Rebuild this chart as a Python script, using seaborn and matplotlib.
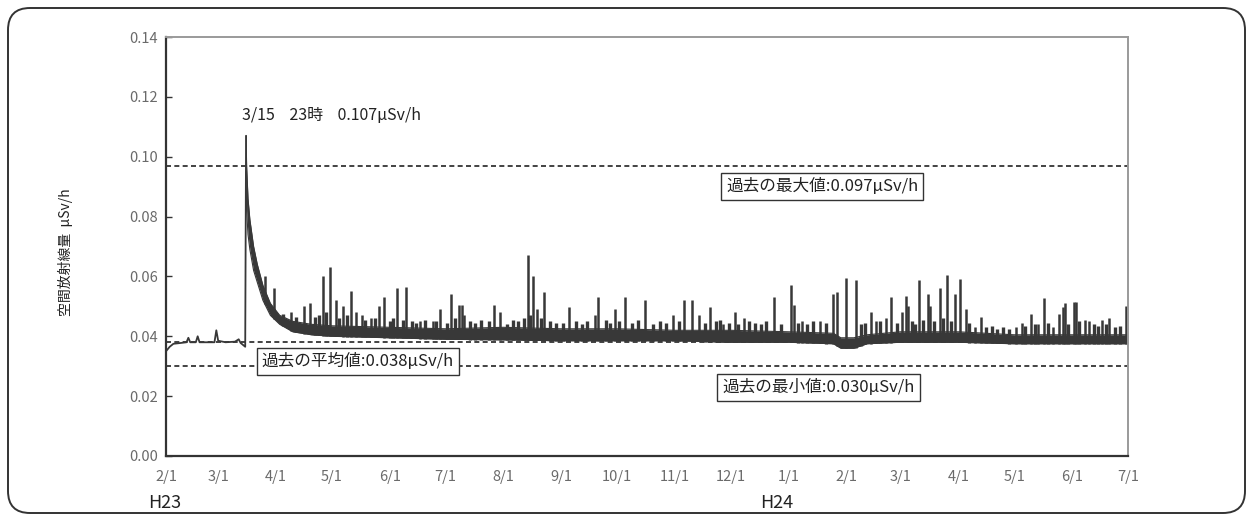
import numpy as np
import pandas as pd
import seaborn as sns
import matplotlib.pyplot as plt
import matplotlib.dates as mdates
from matplotlib.patches import FancyBboxPatch
from matplotlib.transforms import IdentityTransform

# --- data ---
# thin trace before the peak (2/1 - 3/15 23h)
pre_dates = ["2011-02-01", "2011-02-03", "2011-02-05", "2011-02-08", "2011-02-12",
             "2011-02-13", "2011-02-14", "2011-02-17", "2011-02-18", "2011-02-19",
             "2011-02-24", "2011-02-27", "2011-02-28", "2011-03-01", "2011-03-05",
             "2011-03-10", "2011-03-12", "2011-03-13", "2011-03-15 12:00", "2011-03-15 23:00"]
pre_vals = [0.0350, 0.0365, 0.0375, 0.0377, 0.0380,
            0.0395, 0.0380, 0.0380, 0.0400, 0.0380,
            0.0380, 0.0380, 0.0420, 0.0385, 0.0380,
            0.0382, 0.0390, 0.0378, 0.0365, 0.107]

# envelope of the dense hourly band after the peak
band_dates = ["2011-03-15 23:00", "2011-03-16 06:00", "2011-03-17", "2011-03-18", "2011-03-20",
              "2011-03-22", "2011-03-25", "2011-03-29", "2011-04-03", "2011-04-10",
              "2011-04-20", "2011-05-01", "2011-06-01", "2011-07-01", "2011-08-01",
              "2011-09-01", "2011-10-01", "2011-11-01", "2011-12-01", "2012-01-01",
              "2012-01-25", "2012-01-29", "2012-02-05", "2012-02-12", "2012-03-01",
              "2012-04-01", "2012-05-01", "2012-06-01", "2012-07-01"]
band_low = [0.095, 0.082, 0.074, 0.069, 0.062,
            0.058, 0.052, 0.047, 0.044, 0.0415,
            0.0405, 0.040, 0.0395, 0.039, 0.0388,
            0.0385, 0.0385, 0.0385, 0.038, 0.038,
            0.0375, 0.036, 0.036, 0.0375, 0.038,
            0.038, 0.0375, 0.0375, 0.0375]
band_high = [0.107, 0.097, 0.086, 0.079, 0.070,
             0.064, 0.057, 0.051, 0.047, 0.045,
             0.044, 0.0435, 0.043, 0.0425, 0.043,
             0.0425, 0.0425, 0.042, 0.042, 0.0415,
             0.041, 0.0395, 0.0395, 0.0405, 0.0415,
             0.0415, 0.0405, 0.0405, 0.0405]

# short spikes above the band
spike_dates = ["2011-03-26", "2011-03-31", "2011-04-09", "2011-04-16", "2011-04-19",
               "2011-04-26", "2011-04-30", "2011-05-03", "2011-05-07", "2011-05-11",
               "2011-05-14", "2011-05-17", "2011-05-22", "2011-05-26", "2011-05-29",
               "2011-06-05", "2011-06-10", "2011-06-17", "2011-06-24", "2011-06-28",
               "2011-07-04", "2011-07-08", "2011-07-10", "2011-07-11", "2011-07-27",
               "2011-07-30", "2011-08-14", "2011-08-17", "2011-08-19", "2011-08-23",
               "2011-09-05", "2011-09-19", "2011-09-21", "2011-09-30", "2011-10-05",
               "2011-10-16", "2011-10-31", "2011-11-06", "2011-11-10", "2011-11-14",
               "2011-11-20", "2011-11-27", "2011-12-03", "2011-12-08", "2011-12-24",
               "2012-01-02", "2012-01-04", "2012-01-08", "2012-01-18", "2012-01-25",
               "2012-01-27", "2012-02-01", "2012-02-06", "2012-02-14", "2012-02-17",
               "2012-02-22", "2012-02-25", "2012-03-02", "2012-03-04", "2012-03-05",
               "2012-03-11", "2012-03-16", "2012-03-17", "2012-03-22", "2012-03-26",
               "2012-03-30", "2012-04-02", "2012-04-05", "2012-04-10", "2012-04-13",
               "2012-05-02", "2012-05-05", "2012-05-10", "2012-05-14", "2012-05-17",
               "2012-05-22", "2012-05-25", "2012-05-27", "2012-05-28", "2012-06-02",
               "2012-06-03", "2012-06-08", "2012-06-10", "2012-06-17", "2012-06-21",
               "2012-06-30"]
spike_vals = [0.060, 0.056, 0.048, 0.050, 0.051,
              0.060, 0.063, 0.052, 0.050, 0.055,
              0.048, 0.047, 0.046, 0.050, 0.053,
              0.056, 0.0565, 0.045, 0.045, 0.049,
              0.054, 0.0505, 0.0505, 0.047, 0.0505,
              0.048, 0.067, 0.060, 0.049, 0.0547,
              0.0497, 0.047, 0.053, 0.049, 0.053,
              0.052, 0.047, 0.052, 0.052, 0.047,
              0.0497, 0.044, 0.048, 0.046, 0.053,
              0.057, 0.0505, 0.045, 0.045, 0.054,
              0.0547, 0.0595, 0.0587, 0.048, 0.045,
              0.046, 0.053, 0.048, 0.0535, 0.050,
              0.0587, 0.054, 0.050, 0.056, 0.0605,
              0.054, 0.059, 0.049, 0.043, 0.0465,
              0.0432, 0.0444, 0.0476, 0.044, 0.0527,
              0.043, 0.0476, 0.0497, 0.051, 0.0516,
              0.0516, 0.0455, 0.045, 0.0456, 0.046,
              0.050]

# small bumps on top of the band (its ragged upper edge)
ripple_dates = ["2011-04-05", "2011-04-12", "2011-04-22", "2011-04-24", "2011-04-28",
                "2011-05-05", "2011-05-09", "2011-05-19", "2011-05-24", "2011-06-01",
                "2011-06-03", "2011-06-08", "2011-06-13", "2011-06-15", "2011-06-20",
                "2011-06-26", "2011-07-02", "2011-07-06", "2011-07-14", "2011-07-17",
                "2011-07-20", "2011-07-24", "2011-08-03", "2011-08-06", "2011-08-09",
                "2011-08-12", "2011-08-15", "2011-08-21", "2011-08-26", "2011-08-29",
                "2011-09-02", "2011-09-09", "2011-09-12", "2011-09-15", "2011-09-25",
                "2011-09-27", "2011-10-02", "2011-10-09", "2011-10-12", "2011-10-20",
                "2011-10-24", "2011-10-27", "2011-11-03", "2011-11-17", "2011-11-23",
                "2011-11-25", "2011-11-30", "2011-12-05", "2011-12-11", "2011-12-14",
                "2011-12-17", "2011-12-20", "2011-12-28", "2012-01-06", "2012-01-11",
                "2012-01-14", "2012-01-21", "2012-02-09", "2012-02-11", "2012-02-19",
                "2012-02-28", "2012-03-07", "2012-03-09", "2012-03-13", "2012-03-19",
                "2012-03-24", "2012-03-28", "2012-04-07", "2012-04-16", "2012-04-19",
                "2012-04-22", "2012-04-25", "2012-04-28", "2012-05-07", "2012-05-12",
                "2012-05-19", "2012-05-30", "2012-06-05", "2012-06-13", "2012-06-15",
                "2012-06-19", "2012-06-24", "2012-06-27"]
ripple_vals = [0.0475, 0.0465, 0.0465, 0.0470, 0.0480,
               0.0460, 0.0470, 0.0455, 0.0460, 0.0450,
               0.0460, 0.0455, 0.0450, 0.0445, 0.0455,
               0.0450, 0.0445, 0.0460, 0.0450, 0.0445,
               0.0455, 0.0450, 0.0440, 0.0455, 0.0450,
               0.0460, 0.0470, 0.0460, 0.0450, 0.0445,
               0.0445, 0.0450, 0.0440, 0.0450, 0.0455,
               0.0445, 0.0450, 0.0445, 0.0455, 0.0440,
               0.0450, 0.0445, 0.0450, 0.0445, 0.0450,
               0.0455, 0.0445, 0.0440, 0.0450, 0.0445,
               0.0440, 0.0450, 0.0440, 0.0445, 0.0440,
               0.0450, 0.0445, 0.0440, 0.0445, 0.0450,
               0.0445, 0.0450, 0.0440, 0.0455, 0.0450,
               0.0460, 0.0450, 0.0445, 0.0430, 0.0435,
               0.0425, 0.0430, 0.0425, 0.0435, 0.0440,
               0.0445, 0.0440, 0.0450, 0.0440, 0.0435,
               0.0440, 0.0430, 0.0435]

ref_levels = [0.097, 0.038, 0.030]
ref_labels = ["過去の最大値:0.097μSv/h", "過去の平均値:0.038μSv/h", "過去の最小値:0.030μSv/h"]
peak_label = "3/15    23時    0.107μSv/h"
month_ticks = pd.date_range("2011-02-01", "2012-07-01", freq="MS")
tick_labels = [f"{d.month}/1" for d in month_ticks]
y_ticks = [0.00, 0.02, 0.04, 0.06, 0.08, 0.10, 0.12, 0.14]

# --- plot ---
sns.set_style("white")
plt.rcParams["font.family"] = ["Noto Sans CJK JP", "DejaVu Sans"]

line_c = "#383838"
fig = plt.figure(figsize=(12.48, 5.17), dpi=100)
ax = fig.add_axes([0.133, 0.118, 0.7708, 0.8104])

pre = pd.DataFrame({"date": pd.to_datetime(pre_dates, format="mixed"), "value": pre_vals})
band = pd.DataFrame({"date": pd.to_datetime(band_dates, format="mixed"),
                     "low": band_low, "high": band_high})
spikes = pd.DataFrame({"date": pd.to_datetime(spike_dates), "value": spike_vals})
ripple = pd.DataFrame({"date": pd.to_datetime(ripple_dates), "value": ripple_vals})

for lvl in ref_levels:
    ax.axhline(lvl, color="#222222", lw=1.2, ls=(0, (3, 2)), zorder=1)

sns.lineplot(data=pre, x="date", y="value", ax=ax, color=line_c, lw=1.3, zorder=2)
ax.fill_between(band["date"], band["low"], band["high"], color=line_c, lw=0, zorder=2)
sns.lineplot(data=band, x="date", y="high", ax=ax, color=line_c, lw=0.8, zorder=2)
sns.lineplot(data=band, x="date", y="low", ax=ax, color=line_c, lw=0.8, zorder=2)

band_x = mdates.date2num(band["date"])
base_s = np.interp(mdates.date2num(spikes["date"]), band_x, band["low"])
base_r = np.interp(mdates.date2num(ripple["date"]), band_x, band["low"])
ax.vlines(ripple["date"], base_r, ripple["value"], color=line_c, lw=2.4, zorder=2)
ax.vlines(spikes["date"], base_s, spikes["value"], color=line_c, lw=1.8, zorder=2)

ax.set_xlim(pd.Timestamp("2011-02-01"), pd.Timestamp("2012-07-01"))
ax.set_ylim(0, 0.14)
ax.set_xticks(month_ticks)
ax.set_xticklabels(tick_labels)
ax.set_yticks(y_ticks)
ax.set_yticklabels([f"{v:.2f}" for v in y_ticks])
ax.tick_params(axis="x", length=0, pad=10, labelsize=10.5, labelcolor="#6a6a6a")
ax.tick_params(axis="y", direction="in", length=4, width=1, color="#333333", left=True,
               pad=6, labelsize=10.5, labelcolor="#6a6a6a")
ax.set_xlabel("")
ax.set_ylabel("空間放射線量  μSv/h", fontsize=10, color="#222222")
ax.yaxis.set_label_coords(-0.097, 0.487)

for side in ["left", "bottom"]:
    ax.spines[side].set_color("#333333")
    ax.spines[side].set_linewidth(1.6)
for side in ["top", "right"]:
    ax.spines[side].set_color("#9a9a9a")
    ax.spines[side].set_linewidth(1.4)

box = dict(boxstyle="square,pad=0.3", fc="white", ec="#333333", lw=1)
ax.text(pd.Timestamp("2012-01-19"), 0.0901, ref_labels[0], ha="center", va="center",
        fontsize=12, color="#222222", bbox=box, zorder=5)
ax.text(pd.Timestamp("2011-05-15"), 0.0316, ref_labels[1], ha="center", va="center",
        fontsize=12, color="#222222", bbox=box, zorder=5)
ax.text(pd.Timestamp("2012-01-17"), 0.0229, ref_labels[2], ha="center", va="center",
        fontsize=12, color="#222222", bbox=box, zorder=5)
ax.text(pd.Timestamp("2011-05-01"), 0.1139, peak_label, ha="center", va="center",
        fontsize=11.5, color="#222222")

fig.text(165 / 1248, 1 - 503 / 517, "H23", ha="center", va="center", fontsize=13, color="#222222")
fig.text(777 / 1248, 1 - 503 / 517, "H24", ha="center", va="center", fontsize=13, color="#222222")

frame = FancyBboxPatch((8, 4), 1237, 505, boxstyle="round,pad=0,rounding_size=22",
                       transform=IdentityTransform(), fc="none", ec="#333333", lw=1.4)
fig.add_artist(frame)

fig.savefig("out.png", dpi=100)
